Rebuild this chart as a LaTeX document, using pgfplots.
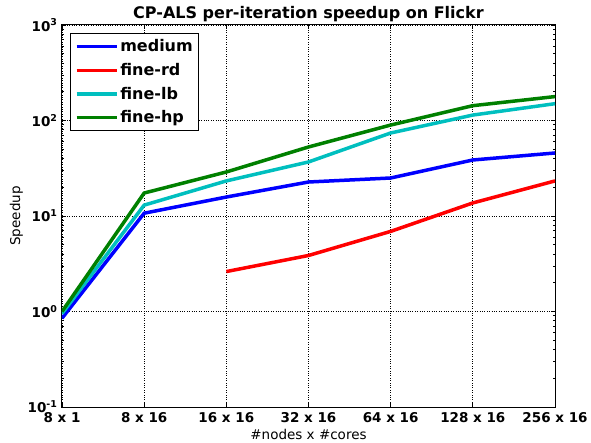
\documentclass[border=0pt]{standalone}
\usepackage{pgfplots}
\pgfplotsset{compat=1.18}
\usepackage{fontspec}
\setmainfont{DejaVu Sans}
\definecolor{mblue}{rgb}{0,0,1}
\definecolor{mred}{rgb}{1,0,0}
\definecolor{mcyan}{rgb}{0,0.75,0.75}
\definecolor{mgreen}{rgb}{0,0.5,0}
\begin{document}
\begin{tikzpicture}
\begin{axis}[
  at={(0,0)}, anchor=south west,
  scale only axis, width=493pt, height=382pt,
  ymode=log, ymin=0.1, ymax=1000,
  xmin=0, xmax=6,
  xtick={0,1,2,3,4,5,6},
  xticklabels={8 x 1, 8 x 16, 16 x 16, 32 x 16, 64 x 16, 128 x 16, 256 x 16},
  ytick={0.1,1,10,100,1000},
  yticklabels={10\textsuperscript{-1},10\textsuperscript{0},10\textsuperscript{1},10\textsuperscript{2},10\textsuperscript{3}},
  ticklabel style={font=\fontsize{13.5}{15}\selectfont\bfseries},
  xticklabel style={yshift=-2pt},
  yticklabel style={xshift=-1pt},
  tick align=inside,
  major tick length=4pt, minor tick length=2pt,
  tick style={black, line width=0.8pt},
  axis line style={black, line width=1pt},
  grid=major, major grid style={black, dotted, line width=0.7pt},
  title={CP-ALS per-iteration speedup on Flickr},
  title style={font=\fontsize{16}{18}\selectfont\bfseries, yshift=-6pt},
  xlabel={\#nodes x \#cores},
  ylabel={Speedup},
  label style={font=\fontsize{13.5}{15}\selectfont},
  xlabel style={yshift=0pt},
  ylabel style={yshift=-2pt},
  legend style={at={(0.017,0.978)}, anchor=north west, draw=black, line width=0.8pt,
    font=\fontsize{16}{18}\selectfont\bfseries, row sep=6pt, inner xsep=4pt, inner ysep=4pt},
  every axis plot post/.append style={
    legend image code/.code={\path (0pt,0pt) -- (40pt,0pt); \draw[##1, line width=3.5pt] (8pt,0pt) -- (28pt,0pt);}},
  legend cell align=left,
  every axis plot/.append style={line width=3.5pt},
]
\addplot[mblue] coordinates {(0,0.85) (1,10.7) (2,15.8) (3,22.7) (4,25) (5,38.6) (6,45.7)};
\addlegendentry{medium}
\addplot[mred] coordinates {(2,2.62) (3,3.86) (4,6.9) (5,13.7) (6,23.3)};
\addlegendentry{fine-rd}
\addplot[mcyan] coordinates {(0,0.95) (1,13) (2,23.3) (3,36.8) (4,74) (5,114) (6,150)};
\addlegendentry{fine-lb}
\addplot[mgreen] coordinates {(0,1.0) (1,17.4) (2,28.9) (3,52.8) (4,89.6) (5,143) (6,178)};
\addlegendentry{fine-hp}
\end{axis}
\pgfresetboundingbox
\path[use as bounding box] (-62pt,-35pt) rectangle (529pt,407pt);
\end{tikzpicture}
\end{document}
